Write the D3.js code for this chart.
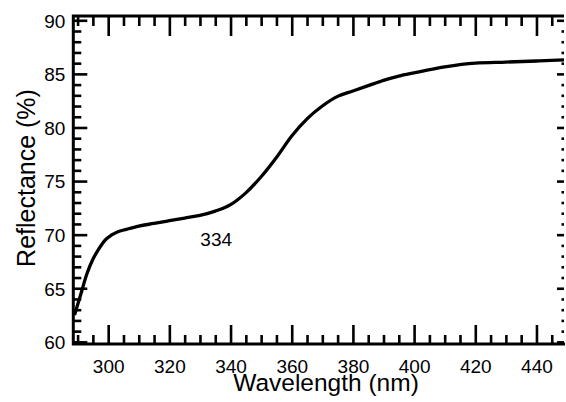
<!DOCTYPE html>
<meta charset='utf-8'>
<style>
body { margin: 0; background: #fff; }
svg { display: block; }
text { font-family: 'Liberation Sans', Arial, sans-serif; fill: #000; }
.axis path { display: none; }
.axis line { stroke: #000; stroke-width: 2.6px; }
.axis text { font-size: 19px; }
path.curve { fill: none; stroke: #000; stroke-width: 3.3px; stroke-linejoin: round; }
</style>
<svg width="566" height="402"></svg>
<script src="https://d3js.org/d3.v7.min.js"></script>
<script>
const wavelength = [289, 291, 293, 295, 297, 299, 301, 303, 306, 310, 315, 320, 325, 330, 335, 340,
  345, 350, 355, 360, 365, 370, 375, 380, 385, 390, 395, 400, 410, 420, 430, 440, 449];
const reflectance = [62.5, 64.4, 66.3, 67.7, 68.7, 69.5, 69.95, 70.25, 70.5, 70.8, 71.05, 71.3, 71.55, 71.8, 72.2, 72.8,
  73.9, 75.4, 77.2, 79.2, 80.8, 82.0, 82.9, 83.4, 83.9, 84.4, 84.8, 85.1, 85.65, 86.0, 86.1, 86.2, 86.3];
const xTickLabels = [300, 320, 340, 360, 380, 400, 420, 440];
const yTickLabels = [60, 65, 70, 75, 80, 85, 90];
const peakLabel = {text: '334', x: 334, y: 69.9};

const plotLeft = 73.3, plotRight = 564, plotTop = 16, plotBottom = 344;

const x = d3.scaleLinear().domain([288.6, 449]).range([plotLeft, plotRight]);
const y = d3.scaleLinear().domain([59.8, 90.4]).range([plotBottom, plotTop]);

const svg = d3.select('svg');

const xMinor = d3.range(290, 450, 5).filter(v => v % 20 !== 0);
const yMinor = d3.range(60, 91, 1).filter(v => v % 5 !== 0);

// bottom axis: ticks point up into the plot
svg.append('g').attr('class', 'axis')
  .attr('transform', `translate(0,${plotBottom})`)
  .call(d3.axisBottom(x).tickValues(xMinor).tickSize(-9).tickFormat(''));
svg.append('g').attr('class', 'axis')
  .attr('transform', `translate(0,${plotBottom})`)
  .call(d3.axisBottom(x).tickValues(xTickLabels).tickSize(-19).tickFormat(d3.format('d')))
  .selectAll('text').attr('y', 28.7).attr('dy', null);

// top axis
svg.append('g').attr('class', 'axis')
  .attr('transform', `translate(0,${plotTop})`)
  .call(d3.axisTop(x).tickValues(xMinor).tickSize(-10).tickFormat(''));
svg.append('g').attr('class', 'axis')
  .attr('transform', `translate(0,${plotTop})`)
  .call(d3.axisTop(x).tickValues(xTickLabels).tickSize(-20).tickFormat(''));

// left axis
svg.append('g').attr('class', 'axis')
  .attr('transform', `translate(${plotLeft},0)`)
  .call(d3.axisLeft(y).tickValues(yMinor).tickSize(-8).tickFormat(''));
svg.append('g').attr('class', 'axis')
  .attr('transform', `translate(${plotLeft},0)`)
  .call(d3.axisLeft(y).tickValues(yTickLabels).tickSize(-14).tickFormat(d3.format('d')))
  .selectAll('text').attr('x', -8).attr('dy', '0.36em');

// right axis, faint scan: only tick stubs show
svg.append('g').attr('class', 'axis')
  .attr('transform', `translate(${plotRight},0)`)
  .call(d3.axisRight(y).tickValues(yMinor).tickSize(-2.5).tickFormat(''));
svg.append('g').attr('class', 'axis')
  .attr('transform', `translate(${plotRight},0)`)
  .call(d3.axisRight(y).tickValues(yTickLabels).tickSize(-7).tickFormat(''));

// frame (left, bottom, top)
svg.append('path')
  .attr('d', `M${plotRight},${plotTop}H${plotLeft}V${plotBottom}H${plotRight + 1}`)
  .attr('fill', 'none')
  .attr('stroke', '#000')
  .attr('stroke-width', 3);

const line = d3.line()
  .x((d, i) => x(wavelength[i]))
  .y(d => y(d))
  .curve(d3.curveMonotoneX);

svg.append('path')
  .attr('class', 'curve')
  .attr('d', line(reflectance));

svg.append('text')
  .attr('x', x(peakLabel.x) + 4)
  .attr('y', y(peakLabel.y) + 10)
  .attr('text-anchor', 'middle')
  .style('font-size', '19px')
  .text(peakLabel.text);

svg.append('text')
  .attr('x', 326)
  .attr('y', 390.5)
  .attr('text-anchor', 'middle')
  .style('font-size', '24.5px')
  .text('Wavelength (nm)');

svg.append('text')
  .attr('transform', 'translate(35,178) rotate(-90)')
  .attr('text-anchor', 'middle')
  .style('font-size', '25px')
  .text('Reflectance (%)');
</script>
